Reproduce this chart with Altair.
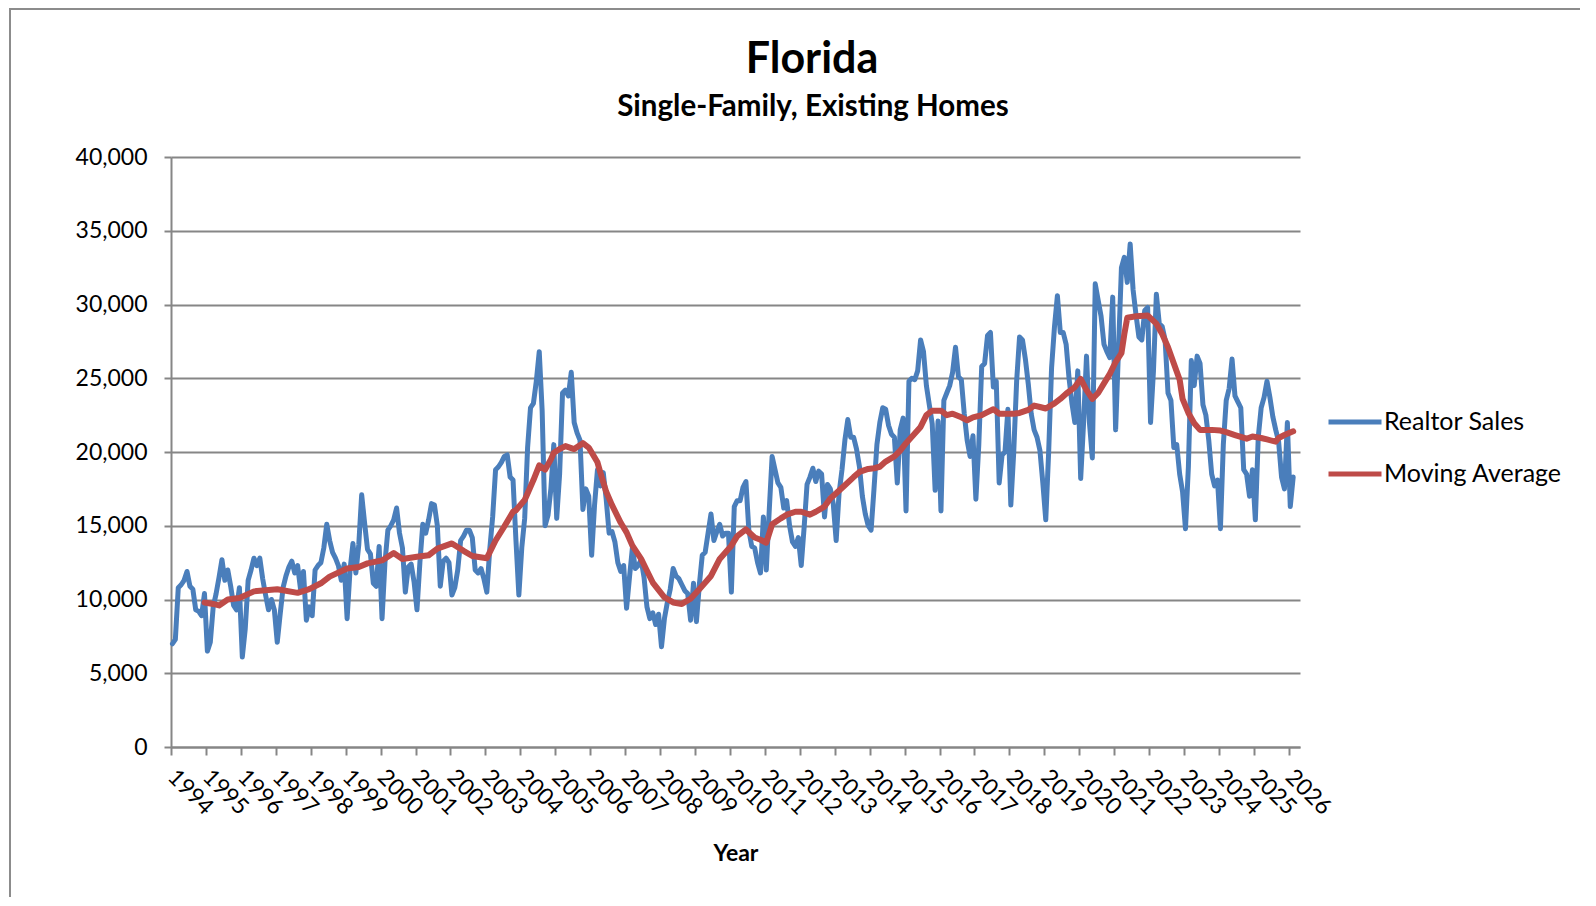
import altair as alt
import pandas as pd

START_YEAR = 1994

# Monthly realtor sales, Jan 1994 onward
sales_1994_2001 = [
    7000, 7300, 10800, 11000, 11300, 11900, 10900, 10700, 9300, 9200, 8900, 10400,      # 1994
    6500, 7100, 9500, 10400, 11500, 12700, 11300, 12000, 10900, 9600, 9300, 10800,      # 1995
    6100, 8000, 11300, 12000, 12800, 12300, 12800, 11400, 10300, 9300, 10000, 9300,     # 1996
    7100, 9000, 10800, 11600, 12200, 12600, 11800, 12300, 10700, 11900, 8600, 9500,     # 1997
    8900, 12000, 12300, 12500, 13500, 15100, 14000, 13200, 12800, 12300, 11300, 12400,  # 1998
    8700, 12000, 13800, 11800, 13700, 17100, 15200, 13400, 13100, 11100, 10900, 13600,  # 1999
    8700, 12500, 14700, 15000, 15400, 16200, 14500, 13500, 10500, 12200, 12400, 11200,  # 2000
    9300, 12500, 15100, 14500, 15400, 16500, 16400, 15000, 10900, 12600, 12800, 12500,  # 2001
]
sales_2002_2009 = [
    10300, 10800, 12000, 14000, 14300, 14700, 14700, 14200, 12000, 11800, 12100, 11400,  # 2002
    10500, 13400, 15600, 18800, 19000, 19300, 19700, 19800, 18300, 18100, 14000, 10300,  # 2003
    13500, 15500, 20300, 23000, 23300, 24800, 26800, 22800, 15000, 15700, 17500, 20500,  # 2004
    15500, 18500, 24000, 24200, 23800, 25400, 22000, 21300, 20800, 16100, 17500, 17000,  # 2005
    13000, 16400, 18800, 17700, 18600, 16800, 14500, 14600, 13900, 12500, 11900, 12300,  # 2006
    9400, 11500, 13500, 12100, 12300, 12700, 11500, 9500, 8700, 9100, 8300, 9000,        # 2007
    6800, 8700, 9800, 10700, 12100, 11600, 11400, 11000, 10600, 10400, 8600, 11100,      # 2008
    8500, 11000, 13000, 13200, 14500, 15800, 14000, 14600, 15100, 14300, 14500, 14500,   # 2009
]
sales_2010_2017 = [
    10500, 16300, 16700, 16700, 17600, 18000, 14700, 13600, 13500, 12500, 11800, 15600,  # 2010
    12000, 16000, 19700, 18800, 17900, 17600, 16200, 16700, 15000, 13900, 13600, 14200,  # 2011
    12300, 14900, 17800, 18300, 18900, 18000, 18700, 18500, 15600, 17800, 17500, 16500,  # 2012
    14000, 17200, 18800, 20800, 22200, 21000, 21000, 20200, 19000, 17000, 15800, 15000,  # 2013
    14700, 17500, 20500, 22000, 23000, 22900, 21800, 21200, 21000, 17900, 21500, 22300,  # 2014
    16000, 24800, 25000, 24900, 25500, 27600, 26800, 24500, 23200, 21900, 17400, 22100,  # 2015
    16000, 23500, 24000, 24500, 25400, 27100, 25100, 24900, 22600, 20800, 19700, 21100,  # 2016
    16800, 20500, 25800, 26000, 27900, 28100, 24400, 24800, 17900, 19800, 20000, 22900,  # 2017
]
sales_2018_2026 = [
    16400, 20000, 24800, 27800, 27600, 26300, 24600, 22600, 21500, 21000, 20100, 17900,  # 2018
    15400, 20000, 25700, 28500, 30600, 28100, 28100, 27300, 25000, 23300, 22000, 25500,  # 2019
    18200, 22000, 26500, 22000, 19600, 31400, 30300, 29200, 27300, 26800, 26400, 30500,  # 2020
    21500, 27000, 32500, 33200, 31500, 34100, 31000, 29300, 27800, 27600, 29600, 29800,  # 2021
    22000, 25500, 30700, 28700, 28500, 27600, 24000, 23500, 20300, 20500, 18500, 17300,  # 2022
    14800, 19000, 26200, 24500, 26500, 26000, 23200, 22500, 20800, 18500, 17700, 18100,  # 2023
    14800, 20500, 23500, 24300, 26300, 23800, 23400, 23000, 18800, 18500, 17000, 18800,  # 2024
    15400, 21000, 23000, 23700, 24800, 23700, 22400, 21500, 20700, 18300, 17500, 22000,  # 2025
    16300, 18300,                                                                          # 2026
]

# Moving average: month index (0 = Jan 1994) and value
ma_month = [
    11, 14, 16, 19, 23, 28, 36, 43, 47, 51, 54, 60, 64, 67, 72, 76, 79, 84, 88, 91,
    96, 100, 103, 108, 111, 114, 117, 118, 121, 124, 126, 128, 130, 131, 133, 135, 138, 141, 143, 146,
    147, 149, 151, 154, 156, 158, 161, 163, 165, 169, 172, 175, 178, 181, 185, 188, 192, 194, 197, 200,
    202, 204, 206, 209, 211, 214, 216, 219, 221, 224, 226, 228, 231, 234, 236, 239, 241, 243, 245, 248,
    250, 252, 255, 257, 259, 261, 264, 266, 268, 271, 273, 275, 278, 280, 282, 284, 289, 291, 294, 296,
    298, 300, 303, 305, 307, 310, 312, 314, 316, 318, 320, 322, 324, 326, 327, 328, 331, 335, 338, 340,
    342, 344, 346, 347, 349, 351, 353, 357, 360, 362, 365, 369, 371, 374, 376, 379, 380, 382, 385,
]
ma_value = [
    9800, 9700, 9600, 10000, 10100, 10550, 10700, 10450, 10700, 11100, 11550, 12100, 12200, 12450, 12650, 13150, 12750, 12900, 13000, 13450,
    13800, 13300, 12950, 12800, 14000, 14950, 15950, 16050, 16750, 18100, 19100, 18800, 19500, 19950, 20200, 20400, 20200, 20600, 20300, 19300,
    18600, 17300, 16400, 15200, 14550, 13650, 12750, 11950, 11150, 10150, 9800, 9700, 10050, 10700, 11600, 12750, 13650, 14300, 14750, 14200,
    14050, 13850, 15100, 15500, 15750, 15950, 15950, 15750, 15950, 16300, 16850, 17200, 17750, 18300, 18650, 18850, 18900, 19000, 19350, 19700,
    20100, 20600, 21250, 21700, 22500, 22800, 22800, 22500, 22600, 22350, 22150, 22350, 22500, 22700, 22900, 22600, 22600, 22650, 22850, 23150,
    23050, 22950, 23300, 23600, 23950, 24400, 24950, 24200, 23600, 24000, 24650, 25300, 26100, 26700, 28000, 29100, 29200, 29250, 28700, 28000,
    27100, 26000, 24900, 23600, 22650, 21950, 21500, 21500, 21450, 21350, 21150, 20900, 21050, 20950, 20850, 20700, 20950, 21150, 21400,
]

series_names = ["Realtor Sales", "Moving Average"]
series_colors = ["#4a7ebb", "#be4b48"]
year_ticks = list(range(1994, 2027))
value_ticks = list(range(0, 40001, 5000))
title_text = "Florida"
subtitle_text = "Single-Family, Existing Homes"

sales = sales_1994_2001 + sales_2002_2009 + sales_2010_2017 + sales_2018_2026

df_sales = pd.DataFrame({
    "t": [START_YEAR + (i + 0.5) / 12 for i in range(len(sales))],
    "v": sales,
    "series": series_names[0],
})
df_ma = pd.DataFrame({
    "t": [START_YEAR + (m + 0.5) / 12 for m in ma_month],
    "v": ma_value,
    "series": series_names[1],
})

FONT = "Lato"
GRAY = "#868686"

x_enc = alt.X(
    "t:Q",
    scale=alt.Scale(domain=[1994, 2026.32], nice=False, zero=False),
    axis=alt.Axis(
        values=year_ticks, format="d", title="Year", grid=False,
        labelAngle=45, labelAlign="left", labelBaseline="middle",
        labelPadding=18, tickSize=8, labelOverlap=False, labelFlush=False,
        labelFontSize=23, titlePadding=23,
    ),
)
y_enc = alt.Y(
    "v:Q",
    scale=alt.Scale(domain=[0, 40000], nice=False),
    axis=alt.Axis(values=value_ticks, format=",.0f", title=None, grid=True,
                  tickSize=7, labelPadding=17, labelFontSize=23),
)
color_enc = alt.Color(
    "series:N",
    scale=alt.Scale(domain=series_names, range=series_colors),
    legend=alt.Legend(
        title=None, orient="none", legendX=1155, legendY=236,
        symbolType="stroke", symbolSize=2809, symbolStrokeWidth=5,
        labelFont=FONT, labelFontSize=25, labelColor="black", labelLimit=0,
        labelOffset=0, rowPadding=10, padding=0,
    ),
)

blue = alt.Chart(df_sales).mark_line(
    strokeWidth=5, strokeJoin="round", strokeCap="round"
).encode(x=x_enc, y=y_enc, color=color_enc)

red = alt.Chart(df_ma).mark_line(
    strokeWidth=6, strokeJoin="round", strokeCap="round"
).encode(x=x_enc, y=y_enc, color=color_enc)

one_row = pd.DataFrame({"k": [0]})
frame_left = alt.Chart(one_row).mark_rule(color="#8c8c8c", strokeWidth=2, clip=False).encode(
    x=alt.value(-161), y=alt.value(-149), y2=alt.value(760)
)
frame_top = alt.Chart(one_row).mark_rule(color="#8c8c8c", strokeWidth=2, clip=False).encode(
    x=alt.value(-162), x2=alt.value(1440), y=alt.value(-148)
)
title_mark = alt.Chart(one_row).mark_text(
    text=title_text, font=FONT, fontSize=43, fontWeight="bold", color="black",
    align="center", baseline="alphabetic", clip=False,
).encode(x=alt.value(641), y=alt.value(-84))
subtitle_mark = alt.Chart(one_row).mark_text(
    text=subtitle_text, font=FONT, fontSize=29.5, fontWeight="bold", color="black",
    align="center", baseline="alphabetic", clip=False,
).encode(x=alt.value(642), y=alt.value(-41))

chart = alt.layer(frame_left, frame_top, title_mark, subtitle_mark, blue, red).properties(
    width=1129,
    height=590,
    background="white",
    autosize=alt.AutoSizeParams(type="none"),
    padding={"left": 163, "top": 149, "right": 280, "bottom": 150},
).configure_axis(
    domainColor=GRAY, domainWidth=2, tickColor=GRAY, tickWidth=2,
    gridColor=GRAY, gridWidth=2, gridOpacity=1,
    labelFont=FONT, labelColor="black",
    titleFont=FONT, titleFontSize=23, titleFontWeight="bold", titleColor="black",
).configure_view(strokeWidth=0)

chart.save("out.html", embed_options={"renderer": "svg", "actions": False})
